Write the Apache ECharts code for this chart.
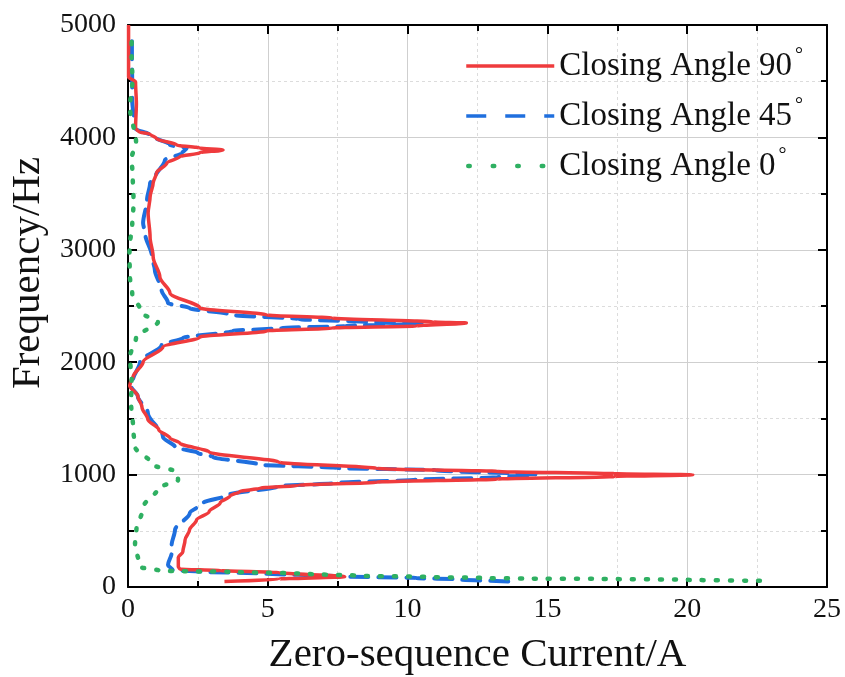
<!DOCTYPE html>
<html>
<head>
<meta charset="utf-8">
<script src="https://cdn.jsdelivr.net/npm/echarts@6/dist/echarts.min.js"></script>
<style>
  html, body { margin: 0; padding: 0; background: #fff; }
  #chart { width: 845px; height: 677px; }
</style>
</head>
<body>
<div id="chart"></div>
<script>
// Zero-sequence current spectrum for three closing angles.
// Each point is [current (A), frequency (Hz)].
const seriesNames = ['Closing Angle 90°', 'Closing Angle 45°', 'Closing Angle 0°'];

const angle90 = [
  [3.45, 50], [5.4, 70], [7.75, 92], [5.4, 128], [3.3, 146], [1.85, 160], [1.8, 180],
  [1.8, 265], [1.96, 311], [2.04, 418], [2.2, 507], [2.45, 596], [2.9, 670], [3.3, 750],
  [3.65, 810], [4.0, 850], [4.7, 878], [6.1, 905], [8.9, 933], [13.2, 960], [17.4, 983],
  [20.2, 998], [17.4, 1008], [13.2, 1028], [8.9, 1055], [5.4, 1110], [2.9, 1200],
  [1.86, 1280], [1.5, 1325], [1.1, 1400], [0.71, 1490], [0.5, 1600], [0.35, 1700],
  [0.06, 1790], [0.1, 1830], [0.18, 1868], [0.54, 2002], [1.25, 2135], [2.57, 2224],
  [4.96, 2278], [7.3, 2304], [10.3, 2322], [12.1, 2349], [10.9, 2358], [7.3, 2393],
  [4.96, 2420], [2.57, 2482], [1.5, 2616], [1.14, 2758], [0.9, 2936], [0.79, 3114],
  [0.72, 3327], [0.79, 3470], [0.9, 3594], [1.02, 3683], [1.39, 3772], [1.86, 3829],
  [2.57, 3864], [3.4, 3888], [2.57, 3905], [1.74, 3932], [1.02, 3990], [0.79, 4030],
  [0.39, 4048], [0.27, 4083], [0.3, 4300], [0.27, 4493], [0.02, 4537], [0.02, 5000]
];

const angle45 = [
  [13.6, 50], [11.8, 68], [10.3, 80], [7.5, 95], [4.67, 122], [2.8, 134], [1.6, 151],
  [1.43, 196], [1.56, 302], [1.56, 374], [1.68, 507], [2.21, 658], [2.68, 747],
  [3.57, 818], [5.38, 896], [7.5, 926], [10.3, 955], [13.2, 976], [14.6, 1000],
  [11.0, 1039], [7.5, 1059], [4.67, 1089], [3.04, 1157], [2.5, 1192], [1.68, 1246],
  [1.25, 1335], [0.71, 1549], [0.35, 1697], [0.1, 1790], [0.18, 1842], [0.43, 2002],
  [1.2, 2153], [1.96, 2215], [3.75, 2278], [5.5, 2304], [7.8, 2322], [10.5, 2342],
  [9.1, 2352], [6.1, 2384], [3.75, 2420], [2.2, 2482], [1.43, 2527], [1.2, 2642],
  [0.96, 2820], [0.86, 2936], [0.61, 3149], [0.54, 3238], [0.68, 3443], [0.79, 3594],
  [0.96, 3639], [1.32, 3799], [1.93, 3861], [2.1, 3905], [1.5, 3932], [0.79, 4021],
  [0.25, 4080], [0.15, 4333], [0.15, 4511], [0.14, 4715], [0.14, 4900]
];

const angle0 = [
  [22.6, 55], [19.9, 65], [17.0, 72], [14.3, 75], [12.7, 80], [10.9, 89], [8.3, 100],
  [6.5, 116], [3.7, 136], [2.0, 140], [1.14, 145], [0.43, 178], [0.25, 374], [0.3, 507],
  [0.55, 712], [1.08, 881], [1.79, 952], [1.74, 1026], [0.9, 1085], [0.25, 1248],
  [0.19, 1397], [0.11, 1638], [0.13, 1842], [0.07, 2046], [0.29, 2224], [1.07, 2358],
  [0.49, 2438], [0.15, 2616], [0.07, 2758], [0.05, 2954], [0.07, 3060], [0.15, 3203],
  [0.2, 3425], [0.17, 3648], [0.13, 3817], [0.29, 3950], [0.07, 4270], [0.16, 4500],
  [0.13, 4715], [0.13, 4911]
];

const xTickStep = 5;      // current axis, A
const yTickStep = 1000;   // frequency axis, Hz

const FONT = 'Liberation Serif';
const colors = { red: '#ef3b3d', blue: '#1f6fde', green: '#2fb062' };
const dashBlue = [18, 10];
const dotGreen = [2, 12];

const chart = echarts.init(document.getElementById('chart'), null, { renderer: 'canvas' });

const frameAxis = {
  min: 0,
  axisLine: { show: true, onZero: false, lineStyle: { color: '#000', width: 2 } },
  axisTick: { show: true, inside: true, length: 9, lineStyle: { color: '#000', width: 2 } },
  minorTick: { show: true, splitNumber: 2, length: 6, lineStyle: { color: '#000', width: 2 } }
};

const plainNumber = v => String(v);

const option = {
  backgroundColor: '#fff',
  animation: false,
  grid: { left: 128, right: 18, top: 25, bottom: 90, outerBoundsMode: 'none', containLabel: false },
  legend: {
    orient: 'vertical',
    left: 459,
    top: 41,
    itemWidth: 88,
    itemHeight: 14,
    itemGap: 10,
    itemTextGap: 7,
    itemStyle: { opacity: 0 },
    lineStyle: { width: 3.5 },
    data: [
      { name: seriesNames[0], lineStyle: { width: 3.5 } },
      { name: seriesNames[1], lineStyle: { width: 3.5, type: [20, 19], cap: 'butt' } },
      { name: seriesNames[2], lineStyle: { width: 4.5, type: [1.5, 23], cap: 'round', dashOffset: -2 } }
    ],
    textStyle: {
      fontFamily: FONT, fontSize: 33, color: '#111', lineHeight: 40,
      rich: { d: { fontFamily: FONT, fontSize: 20, lineHeight: 40, verticalAlign: 'top', padding: [0, 0, 0, 3], color: '#111' } }
    },
    formatter: name => name.replace('°', '{d|°}')
  },
  xAxis: [
    Object.assign({}, frameAxis, {
      type: 'value', position: 'bottom', max: 25, interval: xTickStep,
      name: 'Zero-sequence Current/A', nameLocation: 'middle', nameGap: 48,
      nameTextStyle: { fontFamily: FONT, fontSize: 41, color: '#111' },
      axisLabel: { fontFamily: FONT, fontSize: 28, color: '#111', margin: 9, formatter: plainNumber },
      splitLine: { show: true, lineStyle: { color: '#cfcfcf', width: 1 } },
      minorSplitLine: { show: true, lineStyle: { color: '#dcdcdc', width: 1, type: [3, 3] } }
    }),
    Object.assign({}, frameAxis, {
      type: 'value', position: 'top', max: 25, interval: xTickStep,
      axisLabel: { show: false }, splitLine: { show: false }
    })
  ],
  yAxis: [
    Object.assign({}, frameAxis, {
      type: 'value', position: 'left', max: 5000, interval: yTickStep,
      name: 'Frequency/Hz', nameLocation: 'middle', nameGap: 78, nameRotate: 90,
      nameTextStyle: { fontFamily: FONT, fontSize: 41, color: '#111', padding: [0, 0, 0, 66] },
      axisLabel: { fontFamily: FONT, fontSize: 28, color: '#111', margin: 12, formatter: plainNumber },
      splitLine: { show: true, lineStyle: { color: '#cfcfcf', width: 1 } },
      minorSplitLine: { show: true, lineStyle: { color: '#dcdcdc', width: 1, type: [3, 3] } }
    }),
    Object.assign({}, frameAxis, {
      type: 'value', position: 'right', max: 5000, interval: yTickStep,
      axisLabel: { show: false }, splitLine: { show: false }
    })
  ],
  series: [
    {
      name: seriesNames[1], type: 'line', data: angle45, symbol: 'none',
      smooth: 0.3, smoothMonotone: 'y', z: 3,
      lineStyle: { color: colors.blue, width: 4, type: dashBlue, cap: 'round' },
      itemStyle: { color: colors.blue }
    },
    {
      name: seriesNames[0], type: 'line', data: angle90, symbol: 'none',
      smooth: 0.3, smoothMonotone: 'y', z: 4,
      lineStyle: { color: colors.red, width: 3.5, type: 'solid' },
      itemStyle: { color: colors.red }
    },
    {
      name: seriesNames[2], type: 'line', data: angle0, symbol: 'none',
      smooth: 0.3, smoothMonotone: 'y', z: 5,
      lineStyle: { color: colors.green, width: 4.5, type: dotGreen, cap: 'round' },
      itemStyle: { color: colors.green }
    }
  ]
};

chart.setOption(option);
</script>
</body>
</html>
